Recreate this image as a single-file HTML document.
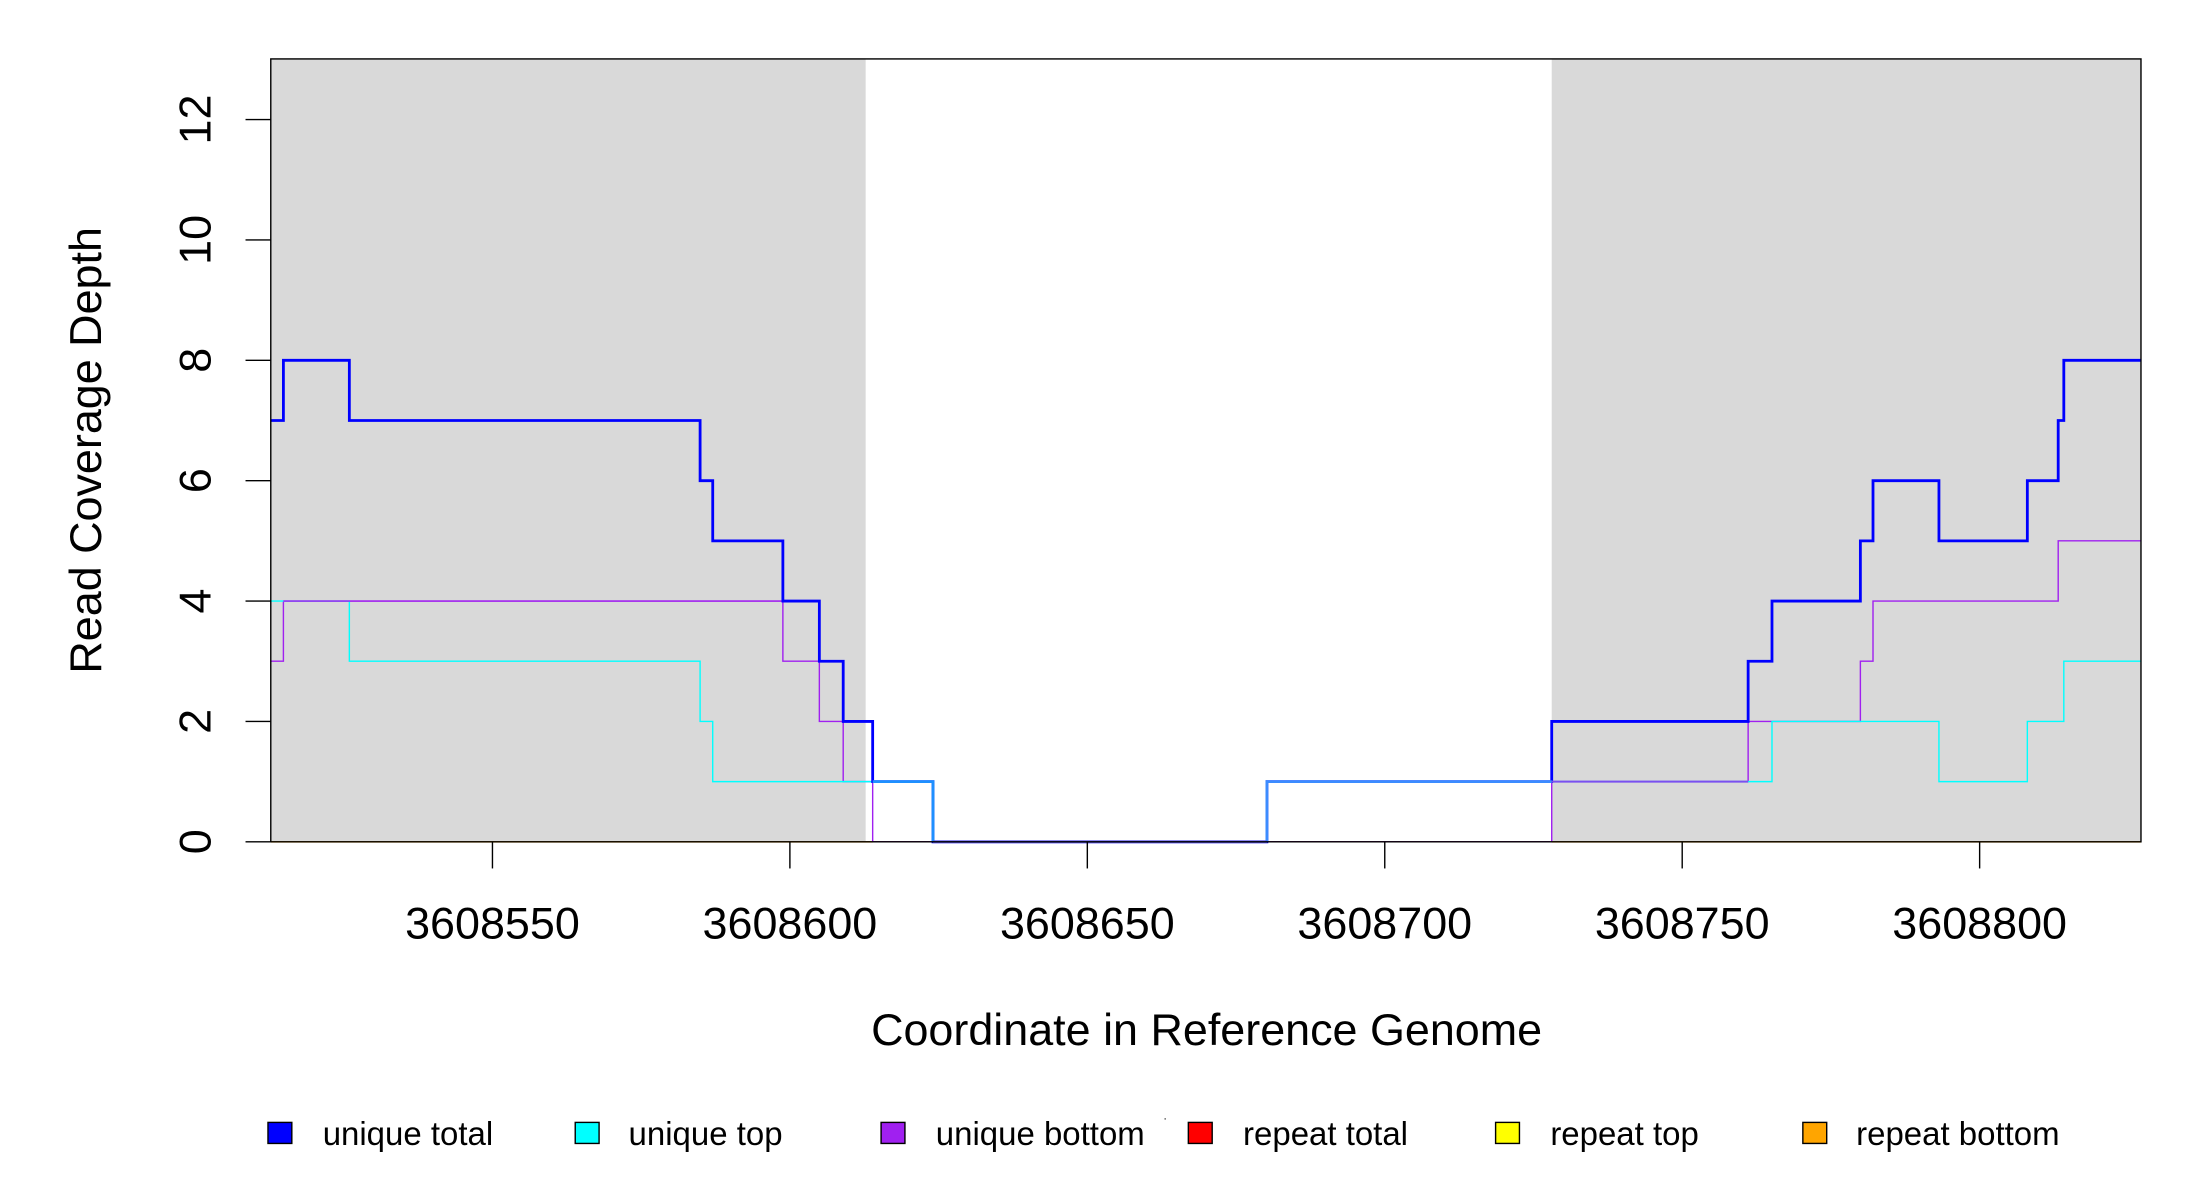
<!DOCTYPE html>
<html><head><meta charset="utf-8"><style>html,body{margin:0;padding:0;background:#fff}svg{display:block}</style></head>
<body>
<svg width="2200" height="1200" viewBox="0 0 2200 1200" xmlns="http://www.w3.org/2000/svg">
<g transform="scale(1.403)" font-family="Liberation Sans, sans-serif">
<rect x="0" y="0" width="1568" height="856" fill="#fff"/>
<rect x="193" y="42" width="424" height="558" fill="#d9d9d9"/>
<rect x="1106" y="42" width="420" height="558" fill="#d9d9d9"/>
<g fill="none" stroke-linejoin="miter">
<line x1="193" y1="600" x2="1526" y2="600" stroke="#ff0000" stroke-width="1"/>
<line x1="193" y1="600" x2="622" y2="600" stroke="#ffa500" stroke-width="1.2"/>
<line x1="1106" y1="600" x2="1526" y2="600" stroke="#ffa500" stroke-width="1.2"/>
<polyline stroke="#a020f0" stroke-width="1" points="193,471.3 202,471.3 202,428.4 558,428.4 558,471.3 584,471.3 584,514.2 601,514.2 601,557.1 622,557.1 622,600 1106,600 1106,557.1 1246,557.1 1246,514.2 1326,514.2 1326,471.3 1335,471.3 1335,428.4 1467,428.4 1467,385.5 1526,385.5"/>
<polyline stroke="#00ffff" stroke-width="1" points="193,428.4 249,428.4 249,471.3 499,471.3 499,514.2 508,514.2 508,557.1 665,557.1 665,600 903,600 903,557.1 1263,557.1 1263,514.2 1382,514.2 1382,557.1 1445,557.1 1445,514.2 1471,514.2 1471,471.3 1526,471.3"/>
<line x1="202" y1="428.4" x2="558" y2="428.4" stroke="#a020f0" stroke-width="1"/>
<polyline stroke="#0000ff" stroke-width="2" points="193,299.7 202,299.7 202,256.8 249,256.8 249,299.7 499,299.7 499,342.6 508,342.6 508,385.5 558,385.5 558,428.4 584,428.4 584,471.3 601,471.3 601,514.2 622,514.2 622,557.1 665,557.1 665,600 903,600 903,557.1 1106,557.1 1106,514.2 1246,514.2 1246,471.3 1263,471.3 1263,428.4 1326,428.4 1326,385.5 1335,385.5 1335,342.6 1382,342.6 1382,385.5 1445,385.5 1445,342.6 1467,342.6 1467,299.7 1471,299.7 1471,256.8 1526,256.8"/>
<polyline stroke="#1e90ff" stroke-width="2" points="622,557.1 665,557.1 665,600"/>
<polyline stroke="#3c8cff" stroke-width="2" points="903,600 903,557.1 1106,557.1"/>
<line x1="665" y1="600" x2="903" y2="600" stroke="#5a50e0" stroke-width="1.8"/>
<line x1="1106" y1="557.1" x2="1246" y2="557.1" stroke="#7a50f0" stroke-width="1.4"/>
</g>
<rect x="193" y="42" width="1333" height="558" fill="none" stroke="#000" stroke-width="1"/>
<g stroke="#000" stroke-width="1">
<line x1="175" y1="600" x2="193" y2="600"/><line x1="175" y1="514.2" x2="193" y2="514.2"/><line x1="175" y1="428.4" x2="193" y2="428.4"/><line x1="175" y1="342.6" x2="193" y2="342.6"/><line x1="175" y1="256.8" x2="193" y2="256.8"/><line x1="175" y1="171" x2="193" y2="171"/><line x1="175" y1="85.2" x2="193" y2="85.2"/>
<line x1="351" y1="600" x2="351" y2="619"/><line x1="563" y1="600" x2="563" y2="619"/><line x1="775" y1="600" x2="775" y2="619"/><line x1="987" y1="600" x2="987" y2="619"/><line x1="1199" y1="600" x2="1199" y2="619"/><line x1="1411" y1="600" x2="1411" y2="619"/>
</g>
<g font-size="32" text-anchor="middle" fill="#000">
<text transform="translate(150,600) rotate(-90)">0</text>
<text transform="translate(150,514.2) rotate(-90)">2</text>
<text transform="translate(150,428.4) rotate(-90)">4</text>
<text transform="translate(150,342.6) rotate(-90)">6</text>
<text transform="translate(150,256.8) rotate(-90)">8</text>
<text transform="translate(150,171) rotate(-90)">10</text>
<text transform="translate(150,85.2) rotate(-90)">12</text>
<text x="351" y="669">3608550</text><text x="563" y="669">3608600</text><text x="775" y="669">3608650</text><text x="987" y="669">3608700</text><text x="1199" y="669">3608750</text><text x="1411" y="669">3608800</text>
<text x="860" y="745">Coordinate in Reference Genome</text>
<text transform="translate(72,321) rotate(-90)">Read Coverage Depth</text>
</g>
<g fill="#000" stroke="#000" stroke-width="1">
<rect x="191" y="800" width="17" height="15" fill="#0000ff"/>
<rect x="410" y="800" width="17" height="15" fill="#00ffff"/>
<rect x="628" y="800" width="17" height="15" fill="#a020f0"/>
<rect x="847" y="800" width="17" height="15" fill="#ff0000"/>
<rect x="1066" y="800" width="17" height="15" fill="#ffff00"/>
<rect x="1285" y="800" width="17" height="15" fill="#ffa500"/>
</g>
<rect x="830" y="797" width="1" height="1" fill="#555"/>
<g font-size="23.5" fill="#000">
<text x="230" y="816">unique total</text>
<text x="448" y="816">unique top</text>
<text x="667" y="816">unique bottom</text>
<text x="886" y="816">repeat total</text>
<text x="1105" y="816">repeat top</text>
<text x="1323" y="816">repeat bottom</text>
</g>
</g>
</svg>
</body></html>
